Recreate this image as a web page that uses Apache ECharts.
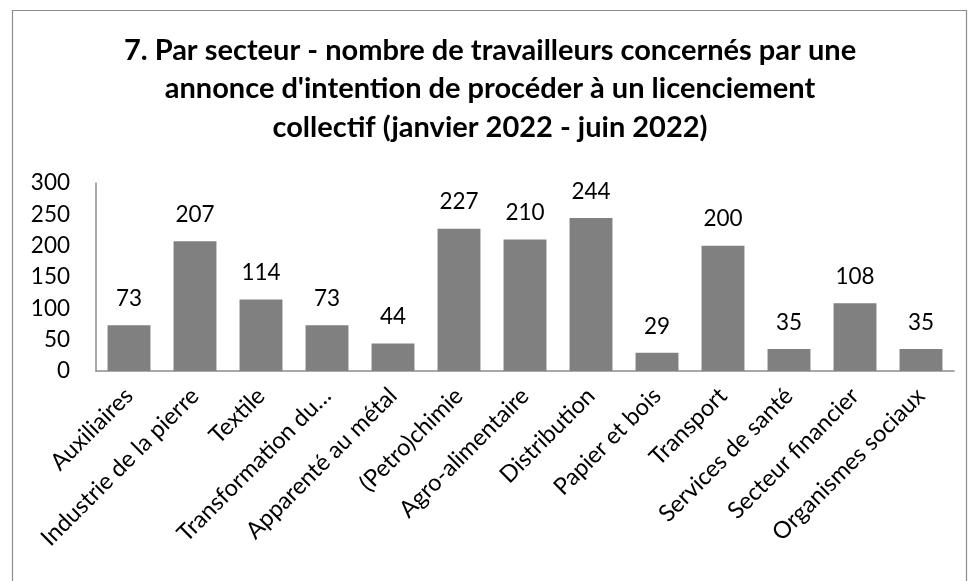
<!DOCTYPE html>
<html><head><meta charset="utf-8">
<script src="https://cdn.jsdelivr.net/npm/echarts@6/dist/echarts.min.js"></script>
<style>html,body{margin:0;padding:0;background:#fff}#c{width:970px;height:581px}</style>
</head><body><div id="c"></div>
<script>
const titleText = "7. Par secteur - nombre de travailleurs concernés par une\nannonce d'intention de procéder à un licenciement\ncollectif (janvier 2022 - juin 2022)";
const categories = ["Auxiliaires","Industrie de la pierre","Textile","Transformation du…","Apparenté au métal","(Petro)chimie","Agro-alimentaire","Distribution","Papier et bois","Transport","Services de santé","Secteur financier","Organismes sociaux"];
const values = [73,207,114,73,44,227,210,244,29,200,35,108,35];
const yTicks = {min:0, max:300, interval:50};

const chart = echarts.init(document.getElementById('c'));
chart.setOption({
  animation:false,
  textStyle:{fontFamily:'Lato'},
  graphic:[{type:'rect',shape:{x:12.5,y:10.5,width:954,height:600},style:{fill:'none',stroke:'#8c8c8c',lineWidth:1.2}}],
  title:{text:titleText,left:485,top:26,textAlign:'center',textStyle:{fontFamily:'Lato',fontWeight:'bold',fontSize:29,lineHeight:38.5,color:'#000'}},
  grid:{left:96,right:16,top:183,bottom:210},
  xAxis:{type:'category',data:categories,
    axisLine:{lineStyle:{color:'#8c8c8c',width:1.5}},axisTick:{show:false},
    axisLabel:{rotate:45,interval:0,fontSize:23.5,color:'#000',fontFamily:'Lato',margin:21}},
  yAxis:{type:'value',min:yTicks.min,max:yTicks.max,interval:yTicks.interval,
    axisLine:{show:true,lineStyle:{color:'#8c8c8c',width:1.5}},axisTick:{show:false},splitLine:{show:false},
    axisLabel:{fontSize:22.5,color:'#000',fontFamily:'Lato',margin:26}},
  series:[{type:'bar',data:values,barWidth:'65%',itemStyle:{color:'#808080'},
    label:{show:true,position:'top',distance:15,fontSize:22.5,color:'#000',fontFamily:'Lato'}}]
});
</script></body></html>
